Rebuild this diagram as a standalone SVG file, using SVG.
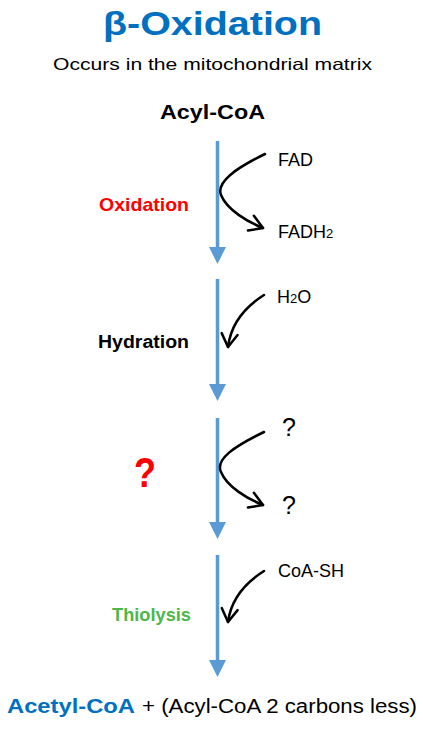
<svg xmlns="http://www.w3.org/2000/svg" width="423" height="730" viewBox="0 0 423 730">
<style>
text{font-family:"Liberation Sans",Arial,sans-serif;}
.b{font-weight:bold;}
.main{stroke:#5B9BD5;stroke-width:3.5;fill:none;}
.side{stroke:#000;stroke-width:2.5;fill:none;stroke-linecap:round;}
</style>
<defs>
<marker id="bh" markerUnits="userSpaceOnUse" markerWidth="20" markerHeight="20" viewBox="0 -10 18 20" refX="0" refY="0" orient="auto">
<path d="M0,-8.5 L17,0 L0,8.5 z" fill="#5B9BD5"/>
</marker>
<marker id="oh" markerUnits="userSpaceOnUse" markerWidth="20" markerHeight="20" viewBox="-16 -10 20 20" refX="0" refY="0" orient="auto">
<path d="M-13,-8 L0,0 L-13,8" fill="none" stroke="#000" stroke-width="2.5" stroke-linecap="round" stroke-linejoin="round"/>
</marker>
</defs>
<rect width="423" height="730" fill="#fff"/>
<g id="title">
<text x="103" y="35" class="b" font-size="34" fill="#0070C0" textLength="219" lengthAdjust="spacingAndGlyphs">β-Oxidation</text>
<text x="53" y="70" font-size="16.5" fill="#000" textLength="319" lengthAdjust="spacingAndGlyphs">Occurs in the mitochondrial matrix</text>
</g>
<g id="acylcoa">
<text x="160" y="119" class="b" font-size="19.5" fill="#000" textLength="105" lengthAdjust="spacingAndGlyphs">Acyl-CoA</text>
</g>
<g id="connectors">
<line class="main" x1="217.5" y1="141" x2="217.5" y2="247" marker-end="url(#bh)"/>
<line class="main" x1="217.5" y1="279" x2="217.5" y2="384" marker-end="url(#bh)"/>
<line class="main" x1="217.5" y1="418" x2="217.5" y2="522" marker-end="url(#bh)"/>
<line class="main" x1="217.5" y1="555" x2="217.5" y2="660" marker-end="url(#bh)"/>
<path class="side" d="M265,154 C236,168 216,182 221,195 C227,210 248,222 263,228" marker-end="url(#oh)"/>
<path class="side" d="M264,295 C245,307 231,323 228,347" marker-end="url(#oh)"/>
<path class="side" d="M264,432 C235,446 215,459 221,472 C227,487 248,499 263,505" marker-end="url(#oh)"/>
<path class="side" d="M264,571 C245,583 231,599 228,622" marker-end="url(#oh)"/>
</g>
<g id="step-oxidation">
<text x="99" y="211" class="b" font-size="18.5" fill="#FF0000" textLength="90" lengthAdjust="spacingAndGlyphs">Oxidation</text>
<text x="278" y="166" font-size="18" fill="#000" textLength="35" lengthAdjust="spacingAndGlyphs">FAD</text>
<text x="278" y="238" font-size="18" fill="#000">FADH<tspan font-size="13">2</tspan></text>
</g>
<g id="step-hydration">
<text x="98" y="348" class="b" font-size="18" fill="#000" textLength="91" lengthAdjust="spacingAndGlyphs">Hydration</text>
<text x="277" y="303" font-size="18" fill="#000">H<tspan font-size="13">2</tspan>O</text>
</g>
<g id="step-unknown">
<text x="134" y="487" class="b" font-size="42" fill="#FF0000" textLength="22" lengthAdjust="spacingAndGlyphs">?</text>
<text x="282" y="436" font-size="25" fill="#000">?</text>
<text x="282" y="514" font-size="25" fill="#000">?</text>
</g>
<g id="step-thiolysis">
<text x="112" y="621" class="b" font-size="18" fill="#4CB848" textLength="79" lengthAdjust="spacingAndGlyphs">Thiolysis</text>
<text x="278" y="577" font-size="18" fill="#000">CoA-SH</text>
</g>
<g id="products">
<text x="7" y="713" class="b" font-size="19.5" fill="#0070C0" textLength="128" lengthAdjust="spacingAndGlyphs">Acetyl-CoA</text>
<text x="142" y="713" font-size="19.5" fill="#000" textLength="275" lengthAdjust="spacingAndGlyphs">+ (Acyl-CoA 2 carbons less)</text>
</g>
</svg>
